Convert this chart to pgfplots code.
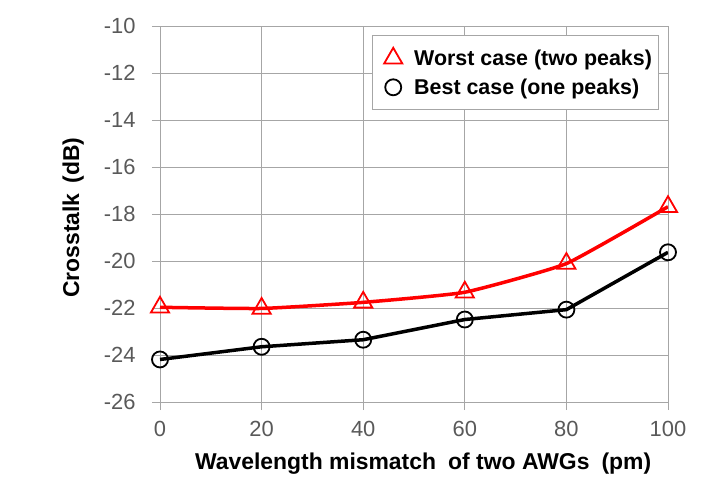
\documentclass[border=0pt]{standalone}
\usepackage{fontspec}
\setmainfont{Liberation Sans}
\usepackage{pgfplots}
\pgfplotsset{compat=1.18}
\definecolor{gridgray}{RGB}{166,166,166}
\definecolor{ticktext}{RGB}{89,89,89}
\begin{document}
\begin{tikzpicture}
\begin{axis}[
  scale only axis,
  width=508bp, height=376bp,
  xmin=0, xmax=100, ymin=-26, ymax=-10,
  xtick={0,20,...,100}, ytick={-26,-24,...,-10},
  /pgf/number format/assume math mode=true,
  grid=major,
  grid style={gridgray, line width=0.8bp},
  axis line style={gridgray, line width=0.8bp},
  axis x line*=bottom, axis y line*=left,
  tick style={gridgray, line width=0.8bp},
  tick align=outside,
  major tick length=8bp,
  ticklabel style={font=\fontsize{22}{26}\selectfont, text=ticktext},
  yticklabel style={xshift=-13bp},
  xticklabel style={yshift=-8bp},
  xlabel={Wavelength mismatch\hspace{0.25em} of two AWGs\hspace{0.25em} (pm)},
  ylabel={Crosstalk\hspace{0.15em} (dB)},
  label style={font=\fontsize{23}{27}\selectfont\bfseries},
  xlabel style={at={(axis description cs:0.518,-0.165)}, anchor=center},
  ylabel style={at={(axis description cs:-0.171,0.49)}, anchor=center},
  legend style={at={(0.417,0.975)}, anchor=north west,
    draw=gridgray, line width=0.8bp, fill=white,
    font=\fontsize{21.5}{25}\selectfont\bfseries,
    inner xsep=4bp, inner ysep=12bp, row sep=8bp,
    legend cell align=left},
  legend image code/.code={%
    \path[draw=none] (0bp,0bp) -- (36bp,0bp);
    \draw[only marks] plot coordinates {(17bp,0bp)};},
]
\addplot[red, line width=3.5bp, smooth, tension=0.25,
  mark=triangle, mark size=10.5bp, mark options={line width=1.8bp, solid}]
  coordinates {(0,-21.97) (20,-22.02) (40,-21.76) (60,-21.33) (80,-20.11) (100,-17.69)};
\addlegendentry{Worst case (two peaks)}
\addplot[black, line width=3.5bp,
  mark=o, mark size=8bp, mark options={line width=1.8bp, solid}]
  coordinates {(0,-24.19) (20,-23.65) (40,-23.35) (60,-22.49) (80,-22.07) (100,-19.63)};
\addlegendentry{Best case (one peaks)}
\coordinate (O) at (rel axis cs:0,0);
\end{axis}
\path[use as bounding box] (O) ++(-160bp,-101bp) rectangle ++(715bp,503bp);
\end{tikzpicture}
\end{document}
